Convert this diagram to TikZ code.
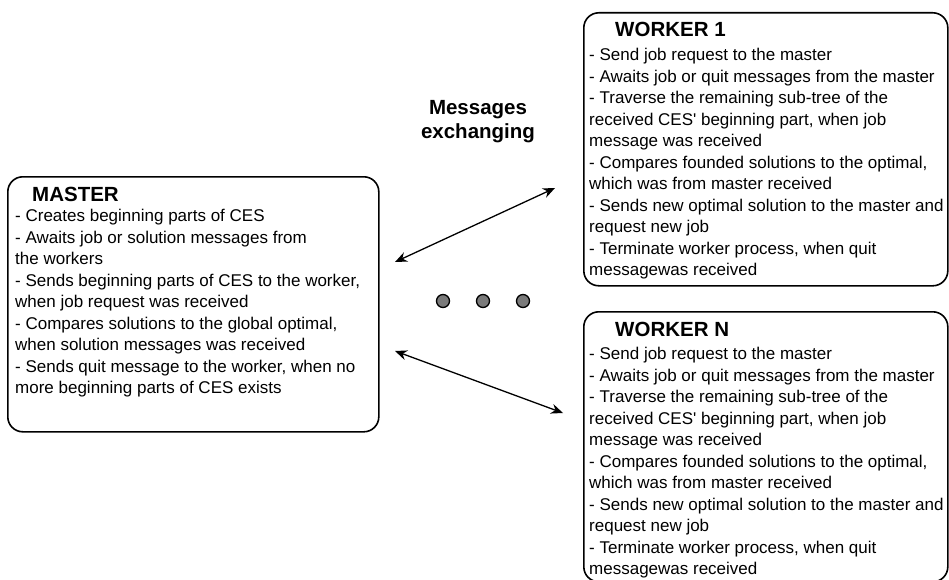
\documentclass[tikz,border=0pt]{standalone}
\usepackage{fontspec}
\setmainfont{Liberation Sans}[Ligatures=TeXOff]
\usetikzlibrary{arrows.meta}
\begin{document}
\begin{tikzpicture}[x=1pt,y=-1pt,
  box/.style={draw=black,line width=1.6pt,rounded corners=15pt,inner sep=0pt,anchor=north west},
  title/.style={anchor=base west,inner sep=0pt,font=\fontsize{20.5}{24}\selectfont\bfseries},
  body/.style={anchor=north west,inner sep=0pt,align=left,font=\fontsize{17}{21.5}\selectfont},
  msgarrow/.style={line width=1.3pt,{Stealth[length=12pt,width=10pt]}-{Stealth[length=12pt,width=10pt]}},
  dot/.style={circle,draw=black,line width=1.3pt,fill=black!52,minimum size=13pt,inner sep=0pt}]
\useasboundingbox (0,0) rectangle (949,580);
% boxes
\node[box,minimum width=371pt,minimum height=255pt] (master) at (7,176) {};
\node[box,minimum width=364pt,minimum height=273pt] (w1) at (583,12) {};
\node[box,minimum width=364pt,minimum height=270pt] (wn) at (583,311) {};
% master text
\node[title] (mtitle) at (32,201) {MASTER};
\node[body] (mbody) at (15,209) {- Creates beginning parts of CES\\
- Awaits job or solution messages from\\
the workers\\
- Sends beginning parts of CES to the worker,\\
when job request was received\\
- Compares solutions to the global optimal,\\
when solution messages was received\\
- Sends quit message to the worker, when no\\
more beginning parts of CES exists};
% worker 1 text
\node[title] (w1title) at (615,37) {WORKER 1};
\node[body] (w1body) at (589,48) {- Send job request to the master\\
- Awaits job or quit messages from the master\\
- Traverse the remaining sub-tree of the\\
received CES' beginning part, when job\\
message was received\\
- Compares founded solutions to the optimal,\\
which was from master received\\
- Sends new optimal solution to the master and\\
request new job\\
- Terminate worker process, when quit\\
messagewas received};
% worker N text
\node[title] (wntitle) at (615,336) {WORKER N};
\node[body] (wnbody) at (589,347) {- Send job request to the master\\
- Awaits job or quit messages from the master\\
- Traverse the remaining sub-tree of the\\
received CES' beginning part, when job\\
message was received\\
- Compares founded solutions to the optimal,\\
which was from master received\\
- Sends new optimal solution to the master and\\
request new job\\
- Terminate worker process, when quit\\
messagewas received};
% label
\node[align=center,inner sep=0pt,font=\fontsize{20.5}{24}\selectfont\bfseries] (lbl) at (478,122) {Messages\\exchanging};
% arrows
\coordinate (a1s) at (395,262);
\coordinate (a1e) at (555,188);
\coordinate (a2s) at (395,351);
\coordinate (a2e) at (563,413);
\draw[msgarrow] (a1s) -- (a1e);
\draw[msgarrow] (a2s) -- (a2e);
% dots
\node[dot] (d1) at (443,301) {};
\node[dot] (d2) at (483,301) {};
\node[dot] (d3) at (523,301) {};
\end{tikzpicture}
\end{document}
